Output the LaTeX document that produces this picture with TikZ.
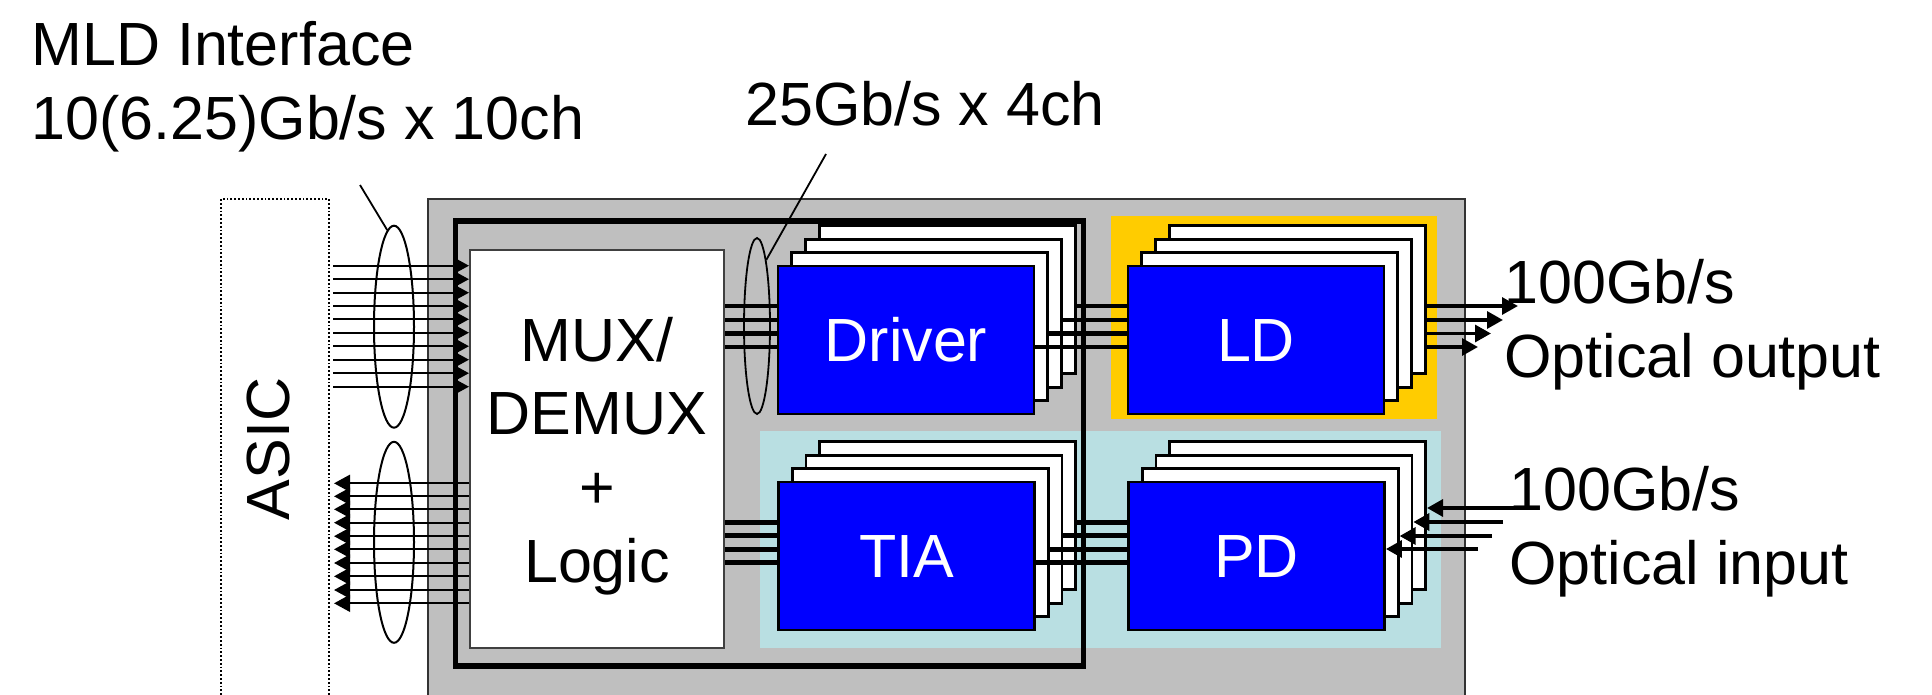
\documentclass[tikz,border=0pt]{standalone}
\usepackage{fontspec}
\setmainfont{Liberation Sans}
\usetikzlibrary{shapes,arrows.meta,positioning,calc}
\definecolor{modulegray}{HTML}{BFBFBF}
\definecolor{txgold}{HTML}{FFCC00}
\definecolor{rxteal}{HTML}{B9DFE2}
\tikzset{
  bigtext/.style={font=\fontsize{30.5}{36.8}\selectfont,inner sep=0pt},
  labeltext/.style={bigtext,align=left,anchor=north west},
  card/.style={draw=black,fill=white,line width=1.4pt,minimum width=128pt,minimum height=74pt,inner sep=0pt},
  chip/.style={card,fill=blue,text=white,bigtext,text height=21.8pt,text depth=0pt},
  zone/.style={inner sep=0pt,outer sep=0pt},
  bundle/.style={draw=black,ellipse,line width=1pt,inner sep=0pt},
  wire/.style={line width=1.15pt},
  lane/.style={line width=2.2pt},
  leader/.style={line width=0.9pt}
}
\begin{document}
\begin{tikzpicture}[x=0.5pt,y=-0.5pt,>={Triangle[length=8pt,width=8.4pt]}]
        \clip (0,0) rectangle (1932,695);
        \fill[white] (0,0) rectangle (1932,695);
        % backgrounds
        \node [draw=black,densely dotted,line width=0.9pt,minimum width=54pt,minimum height=270pt,zone] (asic) at (275,469) {};
        \node [rotate=90,bigtext] (asiclabel) at (268,449) {ASIC};
        \node [draw=black!80,fill=modulegray,line width=1pt,minimum width=518.5pt,minimum height=270pt,zone] (module) at (946.5,469) {};
        \node [fill=txgold,minimum width=163pt,minimum height=101.5pt,zone] (txzone) at (1274,317.5) {};
        \node [fill=rxteal,minimum width=340.5pt,minimum height=108.5pt,zone] (rxzone) at (1100.5,539.5) {};
        \node [draw=black,line width=2.8pt,minimum width=314pt,minimum height=222.5pt,zone] (logicframe) at (769.5,443.5) {};
        \node [draw=black!75,fill=white,line width=1pt,minimum width=127pt,minimum height=199pt,inner sep=0pt] (mux) at (597,449) {};
        \node [bigtext,align=center] (muxlabel) at (597,456) {MUX/\\DEMUX\\+\\Logic};
        % stacks of chips
        \foreach \chipname/\cx/\cy/\chiptext in {driver/906/340/Driver,ld/1256/340/LD,tia/906.5/556/TIA,pd/1256.5/556/PD} {
          \foreach \d in {3,2,1} {
            \node [card] (\chipname\d) at ({\cx+\d*13.7},{\cy-\d*13.4}) {};
          }
          \node [chip] (\chipname) at (\cx,\cy) {\chiptext};
        }
        % ASIC side
        \foreach \y in {265.7,279.2,292.7,306.2,319.3,332.7,346.2,359.7,373.2,386.7} {
          \draw [wire,->] ([xshift=2pt]asic.east |- 0,\y) -- (mux.west |- 0,\y);
        }
        \foreach \y in {483.3,496.3,509.3,522.7,536.2,549.3,563,576.3,590,603.3} {
          \draw [wire,->] (mux.west |- 0,\y) -- ([xshift=2.5pt]asic.east |- 0,\y);
        }
        \node [bundle,minimum width=20pt,minimum height=101pt] (inbundle) at (394,326.7) {};
        \node [bundle,minimum width=20pt,minimum height=100.5pt] (outbundle) at (394,542.3) {};
        % lanes between blocks
        \foreach \y/\src in {306/driver3,320/driver2,333.5/driver1,347/driver} {
          \draw [lane] (mux.east |- 0,\y) -- (driver.west |- 0,\y);
          \draw [lane] (\src.east |- 0,\y) -- (ld.west |- 0,\y);
        }
        \foreach \y/\src in {522.3/tia3,535.5/tia2,549.3/tia1,562.3/tia} {
          \draw [lane] (mux.east |- 0,\y) -- (tia.west |- 0,\y);
          \draw [lane] (\src.east |- 0,\y) -- (pd.west |- 0,\y);
        }
        \node [bundle,line width=0.9pt,minimum width=13pt,minimum height=88pt] (drvbundle) at (757,326) {};
        % optical side
        \foreach \y/\tipx in {306/1518,320/1503,333.5/1491,347/1478} {
          \coordinate (ldtip) at (\tipx,\y);
          \draw [line width=1.9pt,->] (ld3.east |- ldtip) -- (ldtip);
        }
        \foreach \y/\tailx/\dst in {508/1518/pd3,522/1503/pd2,536/1492/pd1,549/1478/pd} {
          \coordinate (pdtail) at (\tailx,\y);
          \draw [line width=1.9pt,->] (pdtail) -- (\dst.east |- pdtail);
        }
        % labels
        \node [labeltext] (mldlabel) at (31,21) {MLD Interface\\10(6.25)Gb/s x 10ch};
        \node [labeltext] (lanelabel) at (745,81) {25Gb/s x 4ch};
        \node [labeltext] (txlabel) at (1504,259) {100Gb/s\\Optical output};
        \node [labeltext] (rxlabel) at (1509,466) {100Gb/s\\Optical input};
        \coordinate (mldfoot) at (360,185);
        \coordinate (lanefoot) at (826,154);
        \draw [leader] (mldfoot) -- (inbundle.94);
        \draw [leader] (lanefoot) -- (drvbundle.82);
        \end{tikzpicture}
\end{document}
